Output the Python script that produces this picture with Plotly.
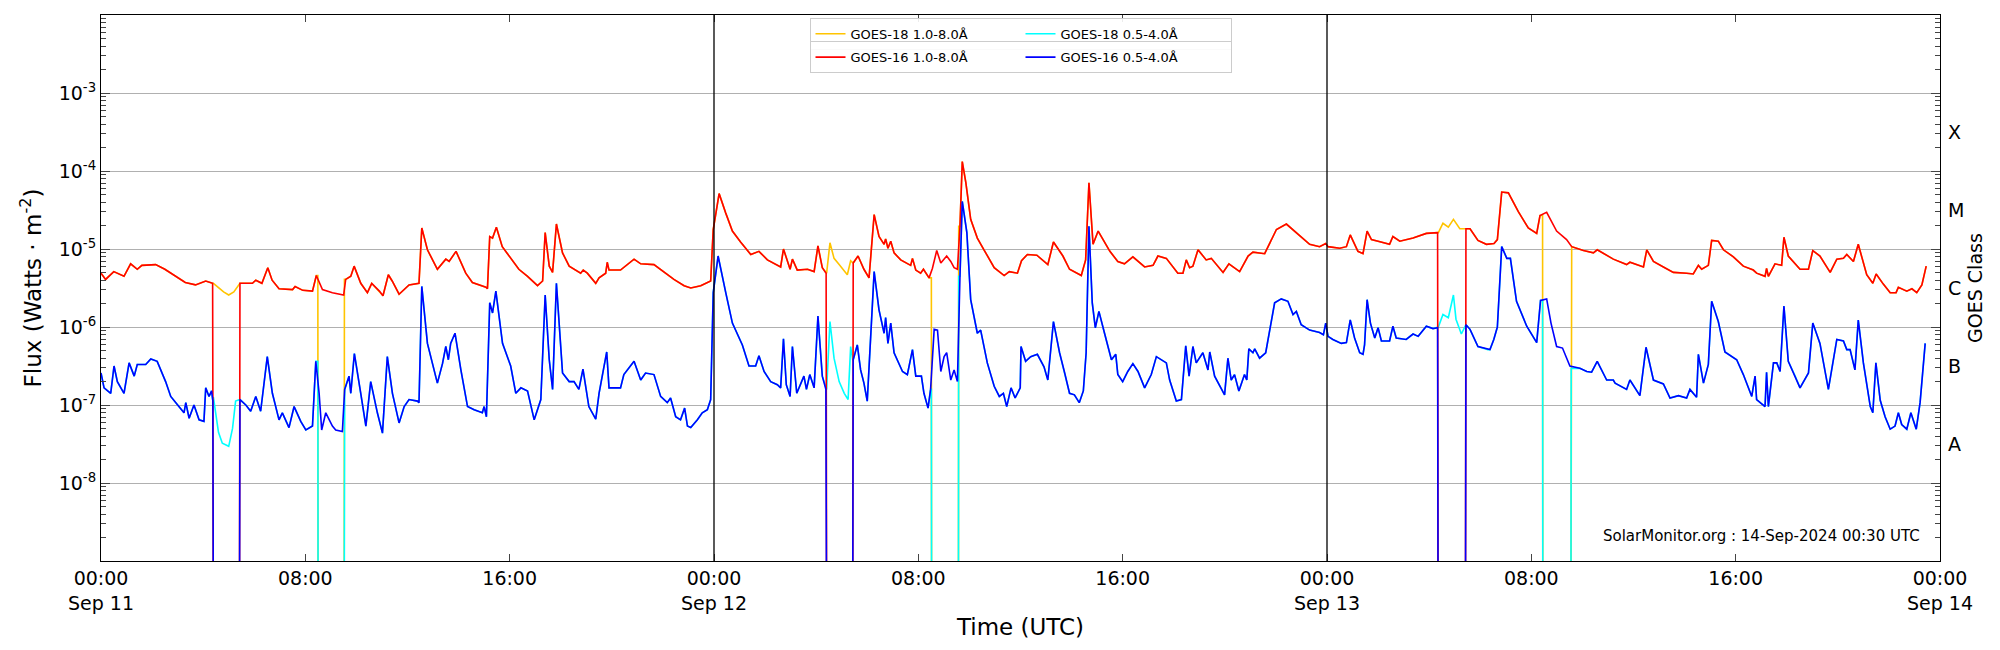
import pandas as pd
import plotly.graph_objects as go

# ---------------- data (hours since 2024-09-11 00:00 UTC, log10 flux) ----------------
g16_long_h = [0,0.18,0.5,0.9,1.16,1.42,1.6,2.14,2.5,2.9,3.3,3.7,4.1,4.37,4.40,5.42,5.44,5.93,6.06,6.3,6.53,6.7,6.97,7.5,7.6,7.9,8.28,8.43,8.67,9.06,9.5,9.58,9.78,9.91,10.17,10.43,10.6,10.9,11.04,11.25,11.4,11.67,12.06,12.45,12.56,12.78,13.17,13.5,13.63,13.9,14.28,14.54,15.07,15.13,15.22,15.33,15.48,15.71,16.1,16.36,16.7,17.09,17.29,17.39,17.55,17.68,17.83,18.07,18.33,18.52,18.78,18.88,19.04,19.37,19.5,19.76,19.82,19.89,20.34,20.87,21.13,21.65,22.04,22.43,22.83,23.09,23.48,23.87,23.97,24.2,24.46,24.72,25.04,25.44,25.76,26.09,26.61,26.72,26.98,27.07,27.26,27.66,27.92,28.07,28.24,28.39,28.41,29.43,29.45,29.64,29.87,30.07,30.27,30.46,30.66,30.72,30.81,30.92,31.05,31.31,31.7,31.77,31.9,32.09,32.2,32.42,32.55,32.72,32.88,33.11,33.27,33.4,33.53,33.63,33.72,33.86,34.05,34.31,34.57,34.97,35.36,35.56,35.88,36.04,36.27,36.64,37.07,37.29,37.66,37.92,38.38,38.55,38.68,38.84,39.04,39.5,39.81,40.07,40.4,40.86,41.19,41.38,41.71,42.16,42.36,42.49,42.62,42.75,42.95,43.27,43.47,43.93,44.16,44.58,44.91,45.1,45.56,46.02,46.41,46.73,47.32,47.71,47.95,48.04,48.5,48.76,48.91,49.21,49.41,49.57,49.74,50.0,50.45,50.58,50.85,51.37,51.89,52.33,52.35,53.42,53.44,53.6,53.91,54.24,54.54,54.67,54.84,55.1,55.49,55.88,56.21,56.34,56.6,56.99,57.38,57.58,58.04,58.43,58.58,59.21,59.73,59.86,60.39,60.52,60.78,61.17,61.56,62.08,62.34,62.54,62.67,62.93,63.06,63.32,63.52,63.91,64.3,64.69,64.82,65.15,65.21,65.28,65.54,65.8,65.89,66.06,66.52,66.85,67.02,67.3,67.7,67.96,68.22,68.35,68.61,68.8,69.13,69.37,69.5,69.78,70.05,70.28,70.37,70.7,70.9,71.09,71.29,71.46]
g16_long_v = [-5.31,-5.39,-5.29,-5.35,-5.19,-5.26,-5.21,-5.20,-5.26,-5.34,-5.43,-5.46,-5.41,-5.44,-10,-10,-5.44,-5.44,-5.40,-5.44,-5.24,-5.40,-5.51,-5.52,-5.48,-5.53,-5.54,-5.34,-5.52,-5.56,-5.59,-5.39,-5.35,-5.22,-5.44,-5.56,-5.44,-5.54,-5.60,-5.33,-5.41,-5.58,-5.46,-5.44,-4.73,-5.01,-5.26,-5.13,-5.16,-5.03,-5.31,-5.43,-5.49,-5.51,-4.84,-4.86,-4.72,-4.97,-5.14,-5.26,-5.35,-5.47,-5.41,-4.79,-5.22,-5.30,-4.68,-5.05,-5.22,-5.26,-5.31,-5.27,-5.31,-5.44,-5.37,-5.31,-5.17,-5.27,-5.27,-5.13,-5.19,-5.20,-5.29,-5.39,-5.47,-5.50,-5.47,-5.41,-4.75,-4.29,-4.54,-4.77,-4.91,-5.07,-5.03,-5.14,-5.23,-5.00,-5.26,-5.13,-5.27,-5.26,-5.29,-4.96,-5.24,-5.31,-10,-10,-5.18,-5.09,-5.26,-5.37,-4.56,-4.84,-4.94,-4.87,-4.99,-4.90,-5.05,-5.14,-5.21,-5.12,-5.27,-5.31,-5.26,-5.37,-5.25,-5.02,-5.18,-5.09,-5.16,-5.24,-5.26,-4.71,-3.88,-4.15,-4.62,-4.86,-5.01,-5.24,-5.34,-5.29,-5.31,-5.15,-5.07,-5.08,-5.20,-4.91,-5.09,-5.26,-5.34,-5.14,-4.15,-4.94,-4.77,-5.03,-5.16,-5.19,-5.10,-5.23,-5.21,-5.09,-5.12,-5.31,-5.31,-5.14,-5.24,-5.22,-5.01,-5.14,-5.12,-5.30,-5.19,-5.29,-5.09,-5.04,-5.06,-4.75,-4.68,-4.77,-4.94,-4.97,-4.93,-4.97,-4.99,-4.97,-4.82,-5.03,-5.06,-4.77,-4.88,-4.90,-4.94,-4.84,-4.90,-4.86,-4.80,-4.79,-10,-10,-4.74,-4.74,-4.89,-4.94,-4.93,-4.88,-4.27,-4.28,-4.52,-4.73,-4.80,-4.57,-4.53,-4.77,-4.88,-4.97,-5.02,-5.05,-5.01,-5.13,-5.20,-5.17,-5.23,-5.01,-5.16,-5.23,-5.30,-5.31,-5.32,-5.21,-5.26,-5.21,-4.89,-4.90,-5.01,-5.10,-5.22,-5.27,-5.31,-5.35,-5.25,-5.35,-5.19,-5.21,-4.85,-5.09,-5.26,-5.26,-5.02,-5.09,-5.30,-5.13,-5.12,-5.07,-5.16,-4.94,-5.33,-5.44,-5.32,-5.45,-5.56,-5.56,-5.49,-5.54,-5.51,-5.56,-5.46,-5.22]

g16_short_h = [0,0.12,0.38,0.51,0.64,0.9,1.1,1.3,1.42,1.75,1.95,2.2,2.53,2.73,3.05,3.25,3.32,3.45,3.64,3.84,4.03,4.1,4.23,4.33,4.38,4.40,5.42,5.44,5.67,5.86,6.06,6.25,6.51,6.71,6.97,7.1,7.36,7.56,7.82,8.02,8.28,8.41,8.54,8.64,8.8,9.06,9.19,9.45,9.54,9.71,9.78,9.92,10.17,10.37,10.56,10.82,11.02,11.21,11.41,11.67,11.87,12.06,12.39,12.45,12.56,12.78,13.17,13.37,13.5,13.6,13.69,13.86,14.09,14.35,14.61,14.93,15.0,15.09,15.22,15.33,15.46,15.72,16.04,16.24,16.44,16.7,16.96,17.22,17.39,17.55,17.68,17.83,18.07,18.33,18.52,18.71,18.87,19.1,19.37,19.5,19.8,19.89,20.34,20.47,20.87,21.13,21.32,21.65,21.91,22.17,22.3,22.5,22.69,22.85,22.96,23.09,23.35,23.54,23.74,23.87,23.97,24.16,24.46,24.72,25.11,25.37,25.63,25.76,25.96,26.22,26.48,26.61,26.72,26.83,26.98,27.07,27.24,27.52,27.62,27.75,27.92,28.07,28.24,28.38,28.41,29.43,29.45,29.61,29.74,29.87,30.0,30.27,30.46,30.66,30.72,30.81,30.92,31.05,31.38,31.57,31.77,31.9,32.12,32.22,32.38,32.48,32.62,32.75,32.88,33.01,33.11,33.27,33.4,33.53,33.63,33.72,33.9,34.05,34.31,34.44,34.7,34.97,35.17,35.33,35.46,35.63,35.79,35.99,36.02,36.2,36.4,36.66,36.92,37.07,37.29,37.53,37.73,37.92,38.11,38.3,38.46,38.57,38.68,38.81,38.93,39.07,39.29,39.56,39.73,39.81,40.0,40.2,40.4,40.6,40.86,41.12,41.32,41.51,41.71,41.84,42.1,42.3,42.47,42.6,42.75,42.88,43.14,43.34,43.41,43.6,43.99,44.12,44.25,44.38,44.55,44.77,44.86,44.94,45.1,45.17,45.36,45.6,45.75,45.95,46.21,46.47,46.67,46.8,46.99,47.32,47.71,47.86,47.95,48.04,48.23,48.56,48.76,48.91,49.08,49.28,49.41,49.47,49.57,49.7,49.87,50.0,50.13,50.45,50.58,50.71,51.1,51.37,51.57,51.89,52.15,52.33,52.35,53.42,53.44,53.6,53.91,54.3,54.38,54.53,54.67,54.84,55.04,55.18,55.42,55.82,56.21,56.36,56.6,56.77,56.99,57.22,57.51,57.9,58.17,58.36,58.58,58.95,59.21,59.28,59.73,59.86,60.25,60.49,60.78,61.17,61.43,61.76,62.08,62.21,62.47,62.54,62.74,62.93,63.06,63.32,63.58,64.04,64.3,64.63,64.76,64.82,65.15,65.21,65.28,65.48,65.61,65.74,65.89,66.06,66.33,66.52,66.85,67.02,67.3,67.63,67.96,68.22,68.35,68.48,68.67,68.8,69.0,69.27,69.37,69.49,69.66,69.85,70.05,70.24,70.37,70.5,70.7,70.86,71.07,71.22,71.42]
g16_short_v = [-6.59,-6.78,-6.85,-6.50,-6.70,-6.85,-6.46,-6.63,-6.48,-6.48,-6.41,-6.44,-6.70,-6.89,-7.02,-7.10,-6.97,-7.17,-7.00,-7.19,-7.21,-6.78,-6.89,-6.82,-6.95,-10,-10,-6.93,-7.00,-7.08,-6.89,-7.08,-6.38,-6.85,-7.19,-7.10,-7.29,-7.02,-7.21,-7.32,-7.27,-6.44,-6.85,-7.32,-7.10,-7.27,-7.32,-7.34,-6.80,-6.63,-6.85,-6.34,-6.85,-7.27,-6.70,-7.10,-7.36,-6.38,-6.85,-7.23,-7.02,-6.93,-6.95,-6.97,-5.48,-6.21,-6.72,-6.47,-6.25,-6.42,-6.21,-6.08,-6.55,-7.02,-7.06,-7.10,-7.02,-7.15,-5.69,-5.82,-5.54,-6.21,-6.50,-6.85,-6.78,-6.82,-7.19,-6.93,-5.59,-6.42,-6.80,-5.44,-6.59,-6.70,-6.70,-6.80,-6.54,-7.02,-7.18,-6.85,-6.32,-6.78,-6.78,-6.61,-6.44,-6.68,-6.59,-6.61,-6.89,-6.97,-6.91,-7.15,-7.19,-7.04,-7.27,-7.29,-7.19,-7.10,-7.06,-6.93,-5.56,-5.09,-5.56,-5.95,-6.23,-6.50,-6.50,-6.37,-6.57,-6.70,-6.74,-6.78,-6.15,-6.74,-6.89,-6.25,-6.85,-6.63,-6.80,-6.61,-6.78,-5.86,-6.63,-6.80,-10,-10,-6.42,-6.23,-6.55,-6.72,-6.95,-5.29,-5.78,-6.08,-5.88,-6.21,-5.95,-6.33,-6.57,-6.61,-6.29,-6.63,-6.63,-6.85,-7.04,-6.80,-6.03,-6.04,-6.57,-6.38,-6.33,-6.68,-6.55,-6.70,-5.35,-4.39,-4.79,-5.65,-6.08,-6.04,-6.46,-6.76,-6.89,-6.85,-7.02,-6.78,-6.91,-6.78,-6.25,-6.44,-6.38,-6.35,-6.51,-6.68,-5.93,-6.33,-6.59,-6.85,-6.87,-6.97,-6.82,-6.33,-4.71,-5.69,-6.01,-5.80,-6.08,-6.42,-6.35,-6.61,-6.70,-6.57,-6.47,-6.57,-6.78,-6.61,-6.38,-6.42,-6.46,-6.68,-6.95,-6.93,-6.24,-6.63,-6.25,-6.46,-6.33,-6.55,-6.32,-6.63,-6.87,-6.40,-6.68,-6.61,-6.82,-6.61,-6.68,-6.28,-6.33,-6.28,-6.40,-6.33,-6.06,-5.69,-5.64,-5.67,-5.84,-5.80,-5.97,-6.04,-6.07,-6.10,-5.95,-6.12,-6.16,-6.21,-6.20,-5.91,-6.14,-6.33,-6.35,-6.23,-5.65,-5.95,-6.14,-6.01,-6.18,-6.18,-5.99,-6.14,-6.16,-6.09,-6.12,-5.99,-6.02,-6.01,-10,-10,-5.97,-6.03,-6.25,-6.29,-6.29,-6.16,-6.00,-4.97,-5.12,-5.12,-5.67,-5.99,-6.20,-5.66,-5.64,-5.95,-6.25,-6.27,-6.50,-6.53,-6.57,-6.58,-6.44,-6.68,-6.68,-6.72,-6.80,-6.68,-6.88,-6.26,-6.68,-6.73,-6.91,-6.88,-6.91,-6.80,-6.90,-6.35,-6.72,-6.48,-5.67,-5.93,-6.32,-6.42,-6.61,-6.89,-6.63,-6.93,-7.02,-6.58,-7.02,-6.46,-6.46,-6.57,-5.73,-6.44,-6.63,-6.78,-6.59,-5.95,-6.21,-6.80,-6.16,-6.18,-6.29,-6.29,-6.55,-5.91,-6.46,-7.02,-7.10,-6.46,-6.94,-7.15,-7.31,-7.27,-7.10,-7.25,-7.31,-7.10,-7.31,-6.97,-6.21]

# GOES-18 readings where GOES-16 has gaps
g18_long_gap_h = [4.40,4.8,5.0,5.2,5.42, 28.41,28.54,28.7,28.9,29.22,29.35,29.43, 52.36,52.54,52.75,52.95,53.2,53.42]
g18_long_gap_v = [-5.44,-5.55,-5.59,-5.55,-5.45, -5.31,-4.92,-5.12,-5.20,-5.33,-5.15,-5.18, -4.79,-4.67,-4.72,-4.62,-4.74,-4.74]
g18_short_gap_h = [4.40,4.6,4.75,5.0,5.15,5.27,5.42, 28.41,28.54,28.7,28.9,29.1,29.25,29.35,29.43, 52.36,52.54,52.75,52.95,53.05,53.26,53.42]
g18_short_gap_v = [-6.90,-7.35,-7.49,-7.53,-7.30,-6.95,-6.93, -6.80,-5.93,-6.40,-6.70,-6.85,-6.93,-6.25,-6.42, -6.00,-5.84,-5.88,-5.59,-5.90,-6.09,-5.97]
# GOES-18 data dropouts (start, end hour)
g18_drop_start = [8.5, 32.52, 56.45]
g18_drop_end = [9.52, 33.57, 57.55]

ytick_exp = [-8, -7, -6, -5, -4, -3]
goes_class = ["A", "B", "C", "M", "X"]
xtick_hours = [0, 8, 16, 24, 32, 40, 48, 56, 64, 72]
xtick_text = ["00:00<br>Sep 11", "08:00", "16:00", "00:00<br>Sep 12", "08:00", "16:00",
              "00:00<br>Sep 13", "08:00", "16:00", "00:00<br>Sep 14"]

# ---------------- build ----------------
base = pd.Timestamp("2024-09-11 00:00")
def tt(hours):
    return [base + pd.Timedelta(hours=h) for h in hours]
def flux(logs):
    return [10.0 ** v for v in logs]

def goes18(h16, v16, gh, gv):
    """GOES-18 shares GOES-16 readings except in GOES-16 gaps and its own dropouts."""
    kept = [(h, v) for h, v in zip(h16, v16) if v > -9.5]
    pts = []
    for a, b in zip(g18_drop_start, g18_drop_end):
        before = [p for p in kept if p[0] < a]
        after = [p for p in kept if p[0] > b]
        if before:
            pts.append((a - 0.01, before[-1][1]))
        if after:
            pts.append((b + 0.01, after[0][1]))
        pts += [(a, -10), (b, -10)]
    pts += [p for p in kept if not any(a <= p[0] <= b for a, b in zip(g18_drop_start, g18_drop_end))]
    pts += list(zip(gh, gv))
    pts.sort()
    return [p[0] for p in pts], [p[1] for p in pts]

g18_long_h, g18_long_v = goes18(g16_long_h, g16_long_v, g18_long_gap_h, g18_long_gap_v)
g18_short_h, g18_short_v = goes18(g16_short_h, g16_short_v, g18_short_gap_h, g18_short_gap_v)

FONT = "DejaVu Sans"
fig = go.Figure()
lw = 1.6
fig.add_trace(go.Scatter(x=tt(g18_long_h), y=flux(g18_long_v), mode="lines",
                         line=dict(color="#FFC400", width=lw), name="GOES-18 1.0-8.0Å", legend="legend"))
fig.add_trace(go.Scatter(x=tt(g18_short_h), y=flux(g18_short_v), mode="lines",
                         line=dict(color="#00FFFF", width=lw), name="GOES-18 0.5-4.0Å", legend="legend"))
fig.add_trace(go.Scatter(x=tt(g16_long_h), y=flux(g16_long_v), mode="lines",
                         line=dict(color="#FF0000", width=lw), name="GOES-16 1.0-8.0Å", legend="legend2"))
fig.add_trace(go.Scatter(x=tt(g16_short_h), y=flux(g16_short_v), mode="lines",
                         line=dict(color="#0000FF", width=lw), name="GOES-16 0.5-4.0Å", legend="legend2"))

minor_vals = [k * 10.0 ** e for e in range(-9, -2) for k in range(2, 10)]

leg_common = dict(orientation="h", x=0.5, xanchor="center", yanchor="top",
                  font=dict(size=13), entrywidth=165, bgcolor="rgba(255,255,255,0.9)",
                  bordercolor="#cccccc", borderwidth=1, itemwidth=30, tracegroupgap=0)
fig.update_layout(
    width=2000, height=650,
    margin=dict(l=93, r=68, t=7, b=97),
    paper_bgcolor="white", plot_bgcolor="white",
    font=dict(family=FONT, size=19, color="black"),
    showlegend=True,
    legend=dict(y=0.995, **leg_common),
    legend2=dict(y=0.952, **leg_common),
    xaxis=dict(range=[base, base + pd.Timedelta(hours=72)], tickvals=tt(xtick_hours), ticktext=xtick_text,
               ticks="inside", ticklen=7, showgrid=False, showline=True, linecolor="black", linewidth=1.2,
               mirror="ticks", zeroline=False, title=dict(text="Time (UTC)", standoff=6)),
    yaxis=dict(type="log", range=[-9, -2], tickvals=[10.0 ** e for e in ytick_exp],
               ticktext=[f"10<sup>{e}</sup>" for e in ytick_exp],
               ticks="inside", ticklen=9, showgrid=True, gridcolor="#b0b0b0", gridwidth=1,
               showline=True, linecolor="black", linewidth=1.2, mirror="ticks", zeroline=False,
               minor=dict(tickvals=minor_vals, ticks="inside", ticklen=5, showgrid=False),
               title=dict(text="Flux (Watts · m<sup>-2</sup>)", standoff=10)),
)

for d in [24, 48]:
    fig.add_shape(type="line", xref="x", yref="paper", x0=base + pd.Timedelta(hours=d),
                  x1=base + pd.Timedelta(hours=d), y0=0, y1=1, line=dict(color="black", width=1.3))

for i, c in enumerate(goes_class):
    fig.add_annotation(text=c, xref="paper", yref="y", x=1.003, y=-7.5 + i, xanchor="left",
                       showarrow=False, font=dict(size=19))
fig.add_annotation(text="GOES Class", xref="paper", yref="paper", x=1.019, y=0.5, textangle=-90,
                   xanchor="center", yanchor="middle", showarrow=False, font=dict(size=19))
fig.add_annotation(text="SolarMonitor.org : 14-Sep-2024 00:30 UTC", xref="paper", yref="paper",
                   x=0.99, y=0.025, xanchor="right", yanchor="bottom", showarrow=False,
                   font=dict(size=15))

fig.write_html("out.html")
